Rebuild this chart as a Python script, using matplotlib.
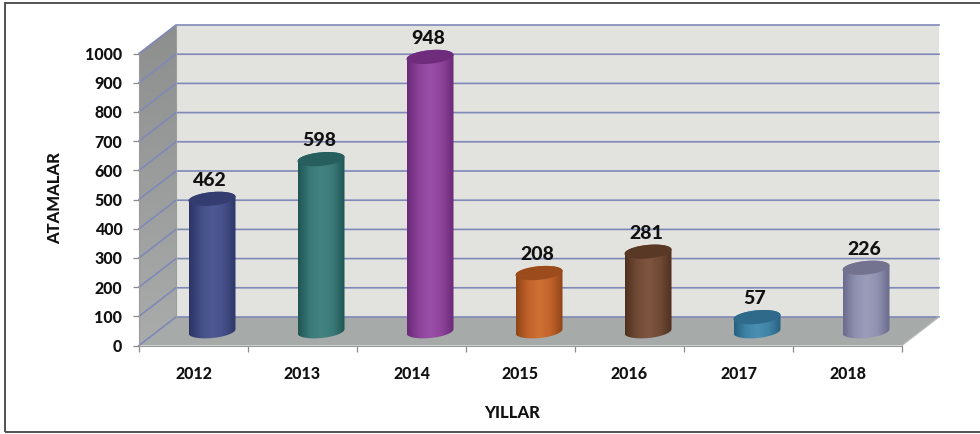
import numpy as np
import matplotlib
matplotlib.use('Agg')
import matplotlib.pyplot as plt
from matplotlib.colors import LinearSegmentedColormap
from matplotlib.patches import Polygon, Rectangle

years = ['2012', '2013', '2014', '2015', '2016', '2017', '2018']
atamalar = [462, 598, 948, 208, 281, 57, 226]
y_ticks = [0, 100, 200, 300, 400, 500, 600, 700, 800, 900, 1000]

# edge, middle, light, top
bar_colors = [
    ('#2b3464', '#444e86', '#4f5a94', '#333d6f'),
    ('#1e5553', '#3a7977', '#438482', '#265f5e'),
    ('#6a2a78', '#8c4299', '#9a50a8', '#6f2c7c'),
    ('#8f4418', '#c0622a', '#cf7034', '#9c4c1c'),
    ('#4e3020', '#704a35', '#7e5640', '#593826'),
    ('#26607f', '#3f82a5', '#4a90b2', '#2f6a8a'),
    ('#6a6a8c', '#8f8fb0', '#9c9cba', '#73738f'),
]

W, H = 980, 434
LEFT, RIGHT, BOTTOM, TOP = 139, 902, 345.5, 53.5
plt.rcParams['font.family'] = ['Lato', 'DejaVu Sans']
plt.rcParams['font.weight'] = 900

fig = plt.figure(figsize=(W / 100, H / 100), dpi=100, facecolor='white')
ax = fig.add_axes([LEFT / W, 1 - BOTTOM / H, (RIGHT - LEFT) / W, (BOTTOM - TOP) / H])
ax.patch.set_visible(False)

n = len(years)
ymax = y_ticks[-1]
px_x = n / (RIGHT - LEFT)
px_y = ymax / (BOTTOM - TOP)
dx = 37 * px_x   # depth of the fake 3d box
dy = 28.5 * px_y
text_c = '#111111'


def gradient(cm, extent, clip, z, horizontal=True):
    g = np.linspace(0, 1, 256)
    g = g.reshape(1, -1) if horizontal else g.reshape(-1, 1)
    im = ax.imshow(g, cmap=cm, extent=extent, aspect='auto', zorder=z, vmin=0, vmax=1)
    clip.set_transform(ax.transData)
    im.set_clip_box(fig.bbox)
    im.set_clip_path(clip)
    return im


# walls and floor
ax.add_patch(Polygon([(0, dy), (n, dy), (n + dx, dy), (n + dx, ymax + dy), (dx, ymax + dy), (dx, dy)],
                     fc='#e2e3df', ec='none', clip_on=False, zorder=1))
side = Polygon([(0, 0), (dx, dy), (dx, ymax + dy), (0, ymax)], fc='none', ec='none')
gradient(LinearSegmentedColormap.from_list('side', ['#8c8f8e', '#a9acaa']),
         (0, dx, 0, ymax + dy), side, 1, horizontal=False)
ax.add_patch(Polygon([(0, 0), (n, 0), (n + dx, dy), (dx, dy)], fc='#a6aaa9', ec='none', clip_on=False, zorder=2))

# gridlines run over the side wall and along the back wall
for t in y_ticks:
    ax.plot([0, dx, n + dx], [t, t + dy, t + dy], color='#8088b8', lw=1.2, clip_on=False, zorder=3,
            solid_joinstyle='miter')
ax.plot([dx, dx], [dy, ymax + dy], color='#9a9d9c', lw=0.8, clip_on=False, zorder=3)
ax.plot([n, n + dx], [0, dy], color='#b8bbb9', lw=0.8, clip_on=False, zorder=3)

# cylinders
a = 23.5 * px_x
b = 6.8 * px_y
shear = 0.09 * px_y / px_x


def ring(cx, cy, t):
    return np.column_stack([cx + a * np.cos(t), cy + b * np.sin(t) + shear * a * np.cos(t)])


for i, (v, c) in enumerate(zip(atamalar, bar_colors)):
    cx = i + 0.5 + dx / 2
    base = dy / 2
    top = base + v - 2.5 * px_y
    cm = LinearSegmentedColormap.from_list('bar%d' % i, [c[0], c[1], c[2], c[1], c[0]])
    pts = np.vstack([ring(cx, base, np.linspace(np.pi, 2 * np.pi, 50)),
                     ring(cx, top, np.linspace(0, np.pi, 50))])
    gradient(cm, (cx - a, cx + a, base - 2 * b, top + 2 * b), Polygon(pts, fc='none', ec='none'), 4)
    ax.add_patch(Polygon(ring(cx, top, np.linspace(0, 2 * np.pi, 100)), fc=c[3], ec='none',
                         clip_on=False, zorder=5))
    ax.annotate(str(v), (cx, top), xytext=(-1.5, 13.2), textcoords='offset points', ha='center', va='center',
                fontsize=14, fontweight=900, color=text_c, zorder=6)

ax.set_xlim(0, n)
ax.set_ylim(0, ymax)
ax.set_xticks(range(n + 1))
ax.set_xticklabels([])
ax.set_xticks(np.arange(n) + 0.5, years, minor=True)
ax.set_yticks(y_ticks)
ax.tick_params(axis='both', which='major', length=4, width=0.9, color='#8a8a8a', labelsize=11.5, labelcolor=text_c, pad=8)
ax.tick_params(axis='x', which='minor', length=0, labelsize=11.5, labelcolor=text_c, pad=15)
for s in ['top', 'right']:
    ax.spines[s].set_visible(False)
for s in ['left', 'bottom']:
    ax.spines[s].set_color('#9a9a9a')
    ax.spines[s].set_zorder(3)
ax.set_xlabel('YILLAR', fontsize=12, fontweight=900, color=text_c)
ax.xaxis.set_label_coords((512 - LEFT) / (RIGHT - LEFT), (BOTTOM - 413) / (BOTTOM - TOP), transform=ax.transAxes)
ax.set_ylabel('ATAMALAR', fontsize=12, fontweight=900, color=text_c)
ax.yaxis.set_label_coords((55 - LEFT) / (RIGHT - LEFT), (BOTTOM - 198) / (BOTTOM - TOP), transform=ax.transAxes)
ax.xaxis.label.set_va('center')
ax.yaxis.label.set_va('center')

# outer frame of the picture, right side runs off the page
fig.add_artist(Rectangle((4.5 / W, 1 - 432 / H), 1, (432 - 2.5) / H, transform=fig.transFigure,
                         fc='none', ec='#444444', lw=1.3))

fig.savefig('out.png', dpi=100)
